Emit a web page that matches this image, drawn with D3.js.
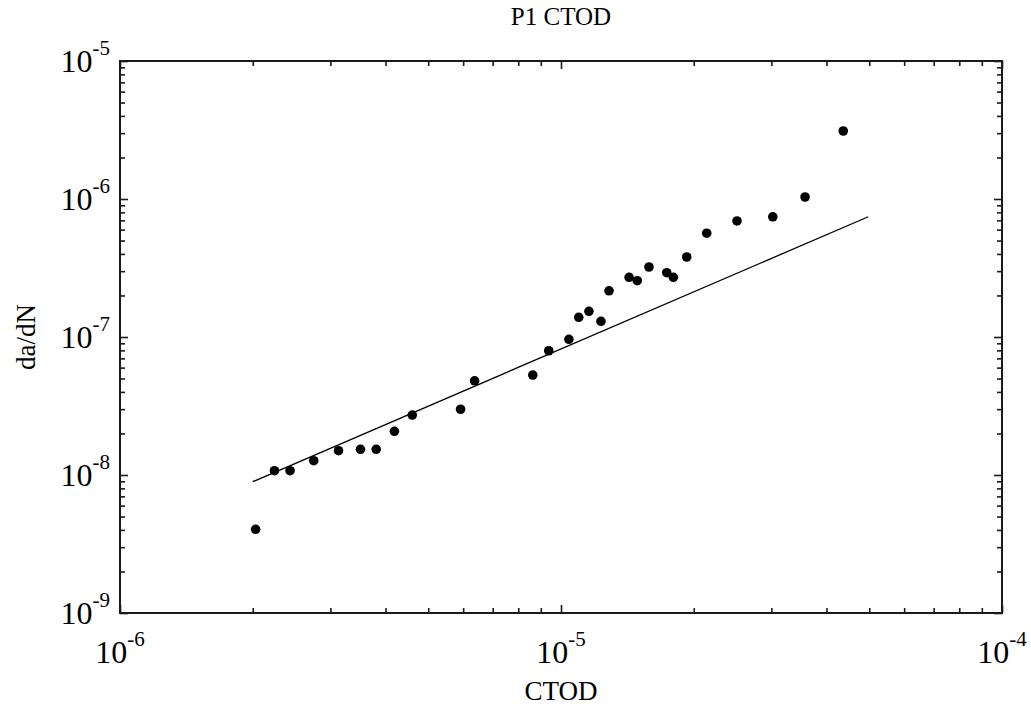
<!DOCTYPE html>
<html>
<head>
<meta charset="utf-8">
<script src="https://cdn.jsdelivr.net/npm/d3@7"></script>
<style>
  html, body { margin: 0; padding: 0; background: #fff; }
  svg { display: block; }
  text { font-family: "Liberation Serif", "Times New Roman", serif; fill: #000; }
</style>
</head>
<body>
<svg id="chart" width="1031" height="709"></svg>
<script>
// ---- data ----
const ctod = [2.03e-6, 2.24e-6, 2.43e-6, 2.75e-6, 3.13e-6, 3.51e-6, 3.81e-6, 4.19e-6, 4.60e-6,
              5.92e-6, 6.37e-6, 8.63e-6, 9.38e-6, 1.042e-5, 1.097e-5, 1.157e-5, 1.232e-5, 1.285e-5,
              1.427e-5, 1.489e-5, 1.583e-5, 1.737e-5, 1.798e-5, 1.928e-5, 2.14e-5, 2.507e-5,
              3.022e-5, 3.576e-5, 4.366e-5];
const dadn = [4.04e-9, 1.074e-8, 1.074e-8, 1.269e-8, 1.50e-8, 1.536e-8, 1.536e-8, 2.073e-8, 2.72e-8,
              2.996e-8, 4.815e-8, 5.30e-8, 7.95e-8, 9.62e-8, 1.389e-7, 1.535e-7, 1.30e-7, 2.162e-7,
              2.707e-7, 2.559e-7, 3.215e-7, 2.924e-7, 2.707e-7, 3.80e-7, 5.65e-7, 6.93e-7,
              7.43e-7, 1.034e-6, 3.11e-6];
const fitX = [2.0e-6, 4.975e-5];
const fitY = [8.94e-9, 7.44e-7];
const xDomain = [1e-6, 1e-4];
const yDomain = [1e-9, 1e-5];
const xMajorTicks = [1e-6, 1e-5, 1e-4];
const xTickExponents = ["-6", "-5", "-4"];
const yMajorTicks = [1e-9, 1e-8, 1e-7, 1e-6, 1e-5];
const yTickExponents = ["-9", "-8", "-7", "-6", "-5"];
const titleText = "P1 CTOD";
const xLabel = "CTOD";
const yLabel = "da/dN";

// ---- layout ----
const svg = d3.select("#chart");
const L = 120, R = 1002, T = 61, B = 613;
const x = d3.scaleLog().domain(xDomain).range([L, R]);
const y = d3.scaleLog().domain(yDomain).range([B, T]);

function minorTicks(domain) {
  const out = [];
  const lo = Math.round(Math.log10(domain[0])), hi = Math.round(Math.log10(domain[1]));
  for (let e = lo; e < hi; e++) for (let k = 2; k <= 9; k++) out.push(k * Math.pow(10, e));
  return out;
}
const xMinor = minorTicks(xDomain);
const yMinor = minorTicks(yDomain);

const axisColor = "#1a1a1a";
function styleAxis(g) {
  g.select(".domain").remove();
  g.selectAll(".tick line").attr("stroke", axisColor).attr("stroke-width", 1.6);
  g.selectAll(".tick text").remove();
}
const MAJ = 8, MIN = 5;
// bottom
svg.append("g").attr("transform", `translate(0,${B})`).call(d3.axisBottom(x).tickValues(xMinor).tickSize(-MIN).tickFormat("")).call(styleAxis);
svg.append("g").attr("transform", `translate(0,${B})`).call(d3.axisBottom(x).tickValues(xMajorTicks).tickSize(-MAJ).tickFormat("")).call(styleAxis);
// top
svg.append("g").attr("transform", `translate(0,${T})`).call(d3.axisTop(x).tickValues(xMinor).tickSize(-MIN).tickFormat("")).call(styleAxis);
svg.append("g").attr("transform", `translate(0,${T})`).call(d3.axisTop(x).tickValues(xMajorTicks).tickSize(-MAJ).tickFormat("")).call(styleAxis);
// left
svg.append("g").attr("transform", `translate(${L},0)`).call(d3.axisLeft(y).tickValues(yMinor).tickSize(-MIN).tickFormat("")).call(styleAxis);
svg.append("g").attr("transform", `translate(${L},0)`).call(d3.axisLeft(y).tickValues(yMajorTicks).tickSize(-MAJ).tickFormat("")).call(styleAxis);
// right
svg.append("g").attr("transform", `translate(${R},0)`).call(d3.axisRight(y).tickValues(yMinor).tickSize(-MIN).tickFormat("")).call(styleAxis);
svg.append("g").attr("transform", `translate(${R},0)`).call(d3.axisRight(y).tickValues(yMajorTicks).tickSize(-MAJ).tickFormat("")).call(styleAxis);

// frame
svg.append("rect").attr("x", L).attr("y", T).attr("width", R - L).attr("height", B - T)
  .attr("fill", "none").attr("stroke", axisColor).attr("stroke-width", 2);

// tick labels
const labFont = 32, supFont = 21;
xMajorTicks.forEach((v, i) => {
  const t = svg.append("text").attr("x", x(v)).attr("y", 663).attr("text-anchor", "middle")
    .style("font-size", labFont + "px");
  t.append("tspan").text("10");
  t.append("tspan").attr("dy", -17).style("font-size", supFont + "px").text(xTickExponents[i]);
});
yMajorTicks.forEach((v, i) => {
  const t = svg.append("text").attr("x", 110).attr("y", y(v) + 11).attr("text-anchor", "end")
    .style("font-size", labFont + "px");
  t.append("tspan").text("10");
  t.append("tspan").attr("dy", -17).style("font-size", supFont + "px").text(yTickExponents[i]);
});

// titles
svg.append("text").attr("x", (L + R) / 2).attr("y", 25).attr("text-anchor", "middle")
  .style("font-size", "25px").text(titleText);
svg.append("text").attr("x", (L + R) / 2).attr("y", 700).attr("text-anchor", "middle")
  .style("font-size", "27px").text(xLabel);
svg.append("text").attr("transform", `translate(35,${(T + B) / 2}) rotate(-90)`).attr("text-anchor", "middle")
  .style("font-size", "27px").text(yLabel);

// fit line
svg.append("path").datum(fitX.map((d, i) => [d, fitY[i]]))
  .attr("d", d3.line().x(d => x(d[0])).y(d => y(d[1])))
  .attr("fill", "none").attr("stroke", "#000").attr("stroke-width", 1.3);

// points
svg.append("g").selectAll("circle").data(ctod.map((d, i) => [d, dadn[i]])).join("circle")
  .attr("cx", d => x(d[0])).attr("cy", d => y(d[1])).attr("r", 4.8).attr("fill", "#000");
</script>
</body>
</html>
